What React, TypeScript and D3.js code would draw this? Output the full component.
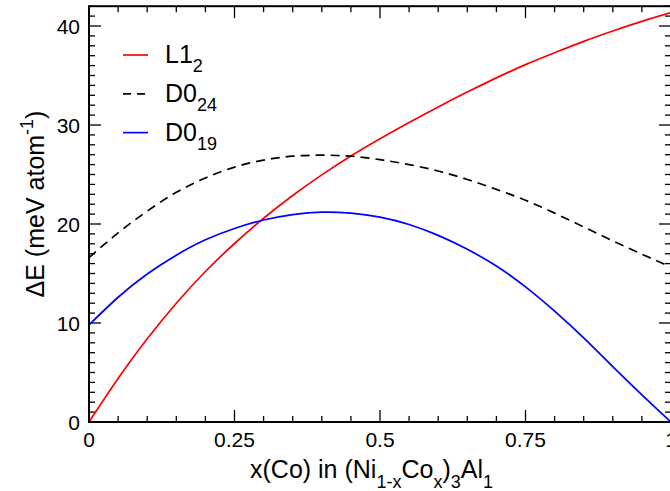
import React from "react";
import * as d3 from "d3";

const X_VALUES = [0, 0.05, 0.1, 0.15, 0.2, 0.25, 0.3, 0.35, 0.4, 0.45, 0.5, 0.55, 0.6, 0.65, 0.7, 0.75, 0.8, 0.85, 0.9, 0.95, 1.0];
const L12 = [0, 4.4, 8.4, 12.0, 15.2, 18.03, 20.58, 22.88, 24.96, 26.86, 28.6, 30.25, 31.83, 33.33, 34.76, 36.1, 37.3, 38.45, 39.5, 40.47, 41.35];
const D024 = [16.6, 19.1, 21.3, 23.2, 24.65, 25.75, 26.45, 26.85, 26.95, 26.85, 26.5, 26.0, 25.35, 24.5, 23.5, 22.4, 21.1, 19.7, 18.3, 16.95, 15.65];
const D019 = [9.8, 12.6, 14.95, 16.85, 18.4, 19.55, 20.4, 20.95, 21.2, 21.1, 20.7, 19.95, 18.85, 17.45, 15.75, 13.65, 11.2, 8.5, 5.6, 2.75, 0];

const X_TICKS = [0, 0.25, 0.5, 0.75, 1];
const X_TICK_LABELS = ["0", "0.25", "0.5", "0.75", "1"];
const Y_TICKS = [0, 10, 20, 30, 40];
const Y_TICK_LABELS = ["0", "10", "20", "30", "40"];

const SERIES = [
  { name: "L1", sub: "2", values: L12, color: "#ff0000", dash: "" },
  { name: "D0", sub: "24", values: D024, color: "#000000", dash: "9,6" },
  { name: "D0", sub: "19", values: D019, color: "#0000ff", dash: "" },
];

const W = 670;
const H = 491;
const LEFT = 89;
const RIGHT = 671;
const TOP = 6.2;
const BOTTOM = 422;
const FONT = "'Liberation Sans', Arial, sans-serif";

export default function App() {
  const x = d3.scaleLinear().domain([0, 1]).range([LEFT, RIGHT]);
  const y = d3.scaleLinear().domain([0, 42]).range([BOTTOM, TOP]);

  const line = (vals: number[]) =>
    d3
      .line<number>()
      .x((_, i) => x(X_VALUES[i]))
      .y((d) => y(d))
      .curve(d3.curveNatural)(vals) || "";

  const xMinor = d3.range(0, 1.0001, 0.05);
  const yMinor = d3.range(0, 42.0001, 1);

  const majorLen = 12;
  const minorLen = 6;

  return (
    <svg
      width={W}
      height={H}
      style={{ position: "absolute", left: 0, top: 0, display: "block", background: "#fff" }}
      fontFamily={FONT}
    >
      <defs>
        <clipPath id="plot">
          <rect x={LEFT} y={TOP} width={RIGHT - LEFT} height={BOTTOM - TOP} />
        </clipPath>
      </defs>

      {xMinor.map((v, i) => {
        const major = i % 5 === 0;
        const len = major ? majorLen : minorLen;
        return (
          <g key={"xt" + i} stroke="#000" strokeWidth={1.3}>
            <line x1={x(v)} x2={x(v)} y1={BOTTOM} y2={BOTTOM - len} />
            <line x1={x(v)} x2={x(v)} y1={TOP} y2={TOP + len} />
          </g>
        );
      })}
      {yMinor.map((v, i) => {
        const major = i % 10 === 0;
        const len = major ? majorLen : minorLen;
        return (
          <g key={"yt" + i} stroke="#000" strokeWidth={1.3}>
            <line x1={LEFT} x2={LEFT + len} y1={y(v)} y2={y(v)} />
            <line x1={RIGHT} x2={RIGHT - len} y1={y(v)} y2={y(v)} />
          </g>
        );
      })}

      <g clipPath="url(#plot)">
        {SERIES.map((s, i) => (
          <path
            key={"s" + i}
            d={line(s.values)}
            fill="none"
            stroke={s.color}
            strokeWidth={1.7}
            strokeDasharray={s.dash || undefined}
          />
        ))}
      </g>

      <rect
        x={LEFT}
        y={TOP}
        width={RIGHT - LEFT}
        height={BOTTOM - TOP}
        fill="none"
        stroke="#000"
        strokeWidth={2}
      />

      {X_TICKS.map((v, i) => (
        <text key={"xl" + i} x={x(v)} y={447} textAnchor="middle" fontSize={21} fill="#000">
          {X_TICK_LABELS[i]}
        </text>
      ))}
      {Y_TICKS.map((v, i) => (
        <text key={"yl" + i} x={80} y={y(v) + 7.5} textAnchor="end" fontSize={21} fill="#000">
          {Y_TICK_LABELS[i]}
        </text>
      ))}

      <text x={250} y={478} fontSize={25} fill="#000">
        x(Co) in (Ni
        <tspan fontSize={18} dy={10}>1-x</tspan>
        <tspan dy={-10}>Co</tspan>
        <tspan fontSize={18} dy={10}>x</tspan>
        <tspan dy={-10}>)</tspan>
        <tspan fontSize={18} dy={10}>3</tspan>
        <tspan dy={-10}>Al</tspan>
        <tspan fontSize={18} dy={10}>1</tspan>
      </text>

      <text
        transform={`translate(44, 204) rotate(-90)`}
        textAnchor="middle"
        fontSize={25}
        fill="#000"
      >
        ΔE (meV atom
        <tspan fontSize={18} dy={-11}>-1</tspan>
        <tspan dy={11}>)</tspan>
      </text>

      {SERIES.map((s, i) => {
        const ly = 55 + i * 38.8;
        return (
          <g key={"lg" + i}>
            <line
              x1={123}
              x2={148}
              y1={ly}
              y2={ly}
              stroke={s.color}
              strokeWidth={1.7}
              strokeDasharray={s.dash ? "8,6" : undefined}
            />
            <text x={165} y={ly + 8} fontSize={25} fill="#000">
              {s.name}
              <tspan fontSize={18} dy={9}>{s.sub}</tspan>
            </text>
          </g>
        );
      })}
    </svg>
  );
}
